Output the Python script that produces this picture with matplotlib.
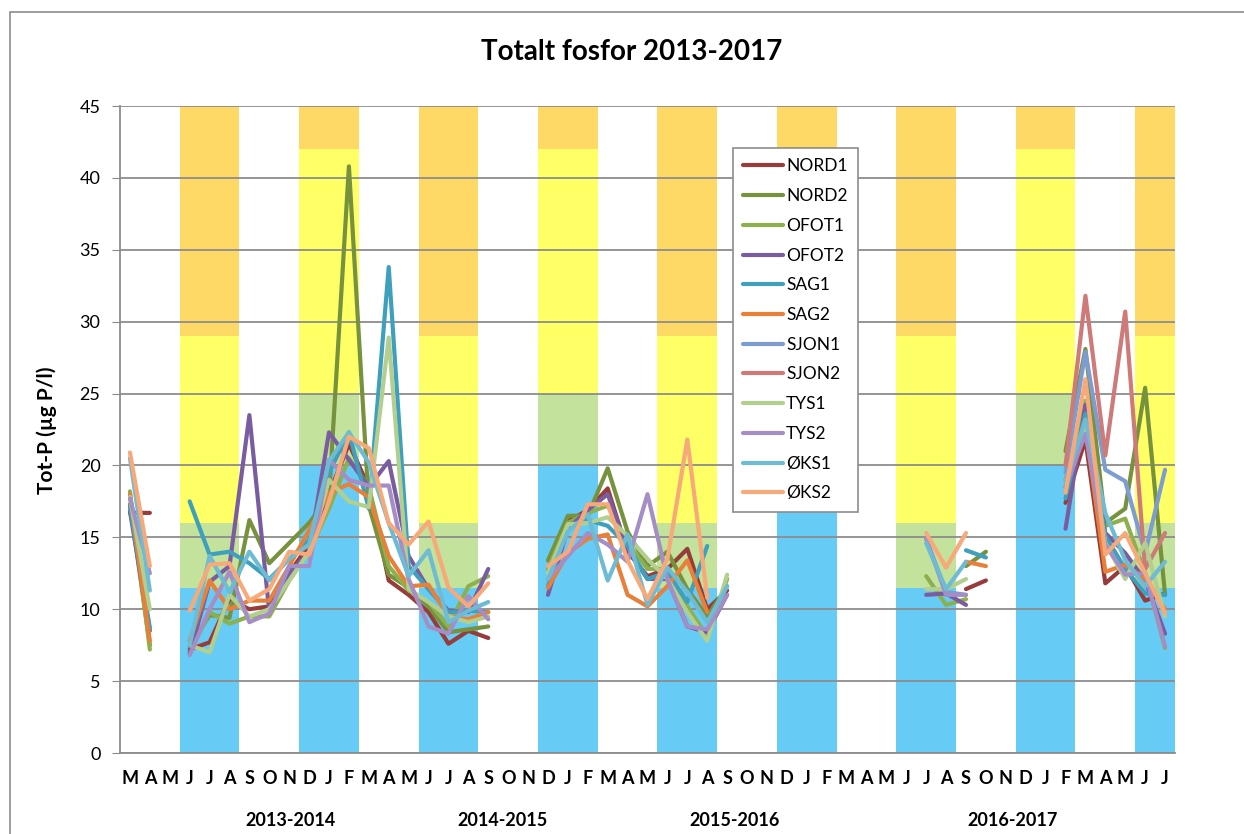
import numpy as np
import pandas as pd
import matplotlib.pyplot as plt
from matplotlib.patches import Rectangle

plt.rcParams['font.family'] = ['Lato', 'DejaVu Sans']

n = np.nan

# Måneder mars 2013 - juli 2017
months = pd.date_range("2013-03-01", "2017-07-01", freq="MS")
month_labels = list("MAMJJASONDJF") * 4 + list("MAMJJ")
season_labels = ["2013-2014", "2014-2015", "2015-2016", "2016-2017"]

# Klassegrenser (sommer jun-aug, vinter des-feb)
summer_limits = [11.5, 16, 29, 45]
winter_limits = [20, 25, 42, 45]

# Tot-P (µg P/l), en rad per år mars-februar
nord1 = [16.7, 16.7, n, 7.2, 7.7, 10.7, 10.0, 10.2, 12.5, 14.5, 18.0, 21.5,
         18.5, 12.0, 11.0, 9.8, 7.6, 8.5, 8.0, n, n, 12.8, 16.1, 16.9,
         18.4, 14.0, 12.3, 12.8, 14.2, 10.0, 11.3, n, n, n, n, n,
         n, n, n, n, n, n, 11.4, 12.0, n, n, n, 17.4,
         21.8, 11.8, 13.0, 10.6, 11.1]
nord2 = [17.3, 7.5, n, 7.4, 9.6, 9.4, 16.2, 13.2, 14.6, 16.0, 17.8, 40.8,
         17.2, 12.4, 11.5, 10.2, 8.4, 8.6, 8.8, n, n, 13.4, 16.5, 16.5,
         19.8, 15.4, 13.0, 14.0, 11.4, 9.5, 11.6, n, n, n, n, n,
         n, n, n, n, n, n, 13.0, 14.0, n, n, n, 21.0,
         28.1, 16.0, 17.0, 25.4, 11.0]
ofot1 = [18.2, 7.2, n, 7.0, 9.8, 9.0, 9.5, 9.5, 12.0, 14.0, 17.0, 20.5,
         18.5, 13.0, 11.3, 10.5, 8.8, 11.6, 12.3, n, n, 12.8, 16.0, 16.7,
         17.2, 14.6, 12.8, 12.8, 10.2, 8.1, 12.1, n, n, n, n, n,
         n, n, n, n, 12.3, 10.3, 10.7, n, n, n, n, 18.5,
         24.5, 15.8, 16.3, 12.5, 7.3]
ofot2 = [16.8, 8.5, n, 6.9, 11.9, 13.0, 23.5, 9.8, 12.5, 14.0, 22.3, 20.4,
         18.5, 20.3, 13.7, 11.4, 9.9, 9.8, 12.8, n, n, 11.0, 15.6, 16.9,
         18.0, 14.2, 12.1, 12.1, 8.8, 8.4, 11.0, n, n, n, n, n,
         n, n, n, n, 11.0, 11.1, 10.3, n, n, n, n, 15.6,
         24.2, 15.3, 13.9, 12.0, 8.3]
sag1 = [17.1, 8.7, n, 17.5, 13.8, 14.0, 13.2, 12.1, 13.5, 14.8, 19.5, 22.3,
        17.0, 33.8, 13.0, 11.4, 9.8, 9.9, 9.8, n, n, 11.6, 15.8, 16.2,
        15.8, 14.4, 12.1, 12.6, 10.5, 14.4, n, n, n, n, n, n,
        n, n, n, n, n, n, 14.1, 13.6, n, n, n, 17.7,
        23.6, 15.1, 12.8, 11.1, 11.0]
sag2 = [18.0, 7.8, n, 7.8, 12.0, 10.0, 10.6, 10.6, 13.0, 15.5, 18.1, 18.7,
        17.8, 13.7, 11.6, 11.7, 9.5, 9.3, 9.8, n, n, 11.5, 13.9, 14.9,
        15.2, 11.0, 10.2, 11.6, 13.4, 9.8, n, n, n, n, n, n,
        n, n, n, n, n, n, 13.3, 13.0, n, n, n, 19.0,
        22.7, 12.6, 13.1, 12.1, 10.0]
sjon1 = [n] * 40 + [14.9, 11.2, 11.0, n, n, n, n, 19.5,
                    27.9, 19.7, 18.9, 13.9, 19.7]
sjon2 = [n] * 47 + [20.0, 31.8, 20.7, 30.7, 12.8, 15.3]
tys1 = [17.8, 10.0, n, 7.5, 7.0, 11.0, 9.5, 10.0, 12.0, 14.0, 19.0, 17.5,
        17.1, 28.9, 11.4, 10.5, 9.5, 9.1, 9.5, n, n, 12.5, 15.9, 16.0,
        16.4, 15.1, 13.5, 12.1, 9.8, 7.8, 12.4, n, n, n, n, n,
        n, n, n, n, 11.4, 11.4, 12.1, n, n, n, n, 18.8,
        22.9, 14.6, 12.1, 14.6, 9.5]
tys2 = [17.7, 12.5, n, 6.8, 10.0, 12.6, 9.1, 9.7, 13.0, 13.0, 20.4, 19.0,
        18.6, 18.6, 12.1, 8.8, 8.3, 10.9, 9.3, n, n, 12.1, 13.7, 15.3,
        14.5, 13.3, 18.0, 12.1, 8.8, 8.6, 11.0, n, n, n, n, n,
        n, n, n, n, 14.9, 11.0, 11.0, n, n, n, n, 18.5,
        22.2, 14.5, 12.4, 12.5, 7.4]
oks1 = [20.5, 11.3, n, 7.5, 13.7, 11.2, 14.0, 12.0, 13.5, 14.5, 20.3, 22.3,
        20.2, 16.0, 12.3, 14.1, 9.1, 9.9, 10.5, n, n, 12.1, 15.4, 16.6,
        12.0, 15.2, 10.3, 12.9, 11.2, 9.1, 11.6, n, n, n, n, n,
        n, n, n, n, 14.6, 11.4, 13.3, n, n, n, n, 18.8,
        23.2, 16.7, 13.4, 11.6, 13.3]
oks2 = [20.9, 13.0, n, 9.9, 13.1, 13.2, 10.6, 11.4, 14.0, 13.8, 17.5, 22.0,
        21.2, 16.0, 14.5, 16.1, 11.5, 10.2, 11.8, n, n, 13.0, 14.0, 17.3,
        17.3, 13.4, 10.7, 13.5, 21.8, 10.8, n, n, n, n, n, n,
        n, n, n, n, 15.3, 12.9, 15.3, n, n, n, n, 18.1,
        26.0, 13.8, 15.3, 12.5, 9.7]

stations = ["NORD1", "NORD2", "OFOT1", "OFOT2", "SAG1", "SAG2",
            "SJON1", "SJON2", "TYS1", "TYS2", "ØKS1", "ØKS2"]
values = [nord1, nord2, ofot1, ofot2, sag1, sag2,
          sjon1, sjon2, tys1, tys2, oks1, oks2]
colors = ['#963C3A', '#76923C', '#8DB04E', '#7A5CA0', '#3FA0BE', '#E8803A',
          '#7D9DD0', '#CE7A78', '#B3CF8F', '#A58EC5', '#6EBBD4', '#F7A97A']
band_colors = ['#66CCF5', '#C3E29B', '#FFFF66', '#FFD966']

fig = plt.figure(figsize=(12.44, 8.34), dpi=100)
ax = fig.add_axes([120/1244, 1-753/834, 1055/1244, 647/834])

x = np.arange(len(months))
summer = np.isin(months.month, [6, 7, 8])
winter = np.isin(months.month, [12, 1, 2])
bottom = np.zeros(len(x))
for k in range(4):
    top = np.where(summer, summer_limits[k], np.where(winter, winter_limits[k], 0))
    ax.bar(x, top - bottom, bottom=bottom, width=1.0, color=band_colors[k],
           linewidth=0, zorder=1)
    bottom = top

for name, vals, c in zip(stations, values, colors):
    ax.plot(x, np.array(vals, dtype=float), color=c, lw=3, label=name,
            solid_joinstyle='round', solid_capstyle='round', zorder=3)

ax.set_xlim(-0.5, len(x) - 0.5)
ax.set_ylim(0, 45)
ax.set_yticks(range(0, 46, 5))
ax.set_xticks(x)
ax.set_xticklabels(month_labels, fontweight='bold', fontsize=13)
ax.tick_params(axis='x', length=0, pad=12)
ax.tick_params(axis='y', labelsize=13, length=6, color='#8C8C8C', pad=8)
ax.set_axisbelow(False)
ax.yaxis.grid(True, color='#8C8C8C', lw=1.3)
for s in ['top', 'right']:
    ax.spines[s].set_visible(False)
for s in ['left', 'bottom']:
    ax.spines[s].set_color('#8C8C8C')
    ax.spines[s].set_linewidth(1.3)

for lab, px in zip(season_labels, [290, 503, 735, 1013]):
    fig.text(px/1244, 1-820/834, lab, ha='center', va='center',
             fontweight='bold', fontsize=13)

fig.text(632/1244, 1-52/834, 'Totalt fosfor 2013-2017', ha='center', va='center',
         fontweight='bold', fontsize=20)
fig.text(47/1244, 1-430/834, 'Tot-P (µg P/l)', ha='center', va='center',
         rotation=90, fontweight='bold', fontsize=15)

leg = ax.legend(loc='upper left', bbox_to_anchor=(0.581, 0.935), fontsize=12.5,
                fancybox=False, framealpha=1, edgecolor='#8C8C8C',
                labelspacing=0.79, handlelength=2.3, handletextpad=0.15,
                borderpad=0.6, borderaxespad=0)
leg.get_frame().set_linewidth(1.2)
leg.set_zorder(5)

fig.patches.append(Rectangle((10/1244, -0.1), 1.2, 1.1 - 12/834, fill=False,
                             edgecolor='#8C8C8C', lw=1.2, transform=fig.transFigure))

plt.savefig('out.png', dpi=100)
